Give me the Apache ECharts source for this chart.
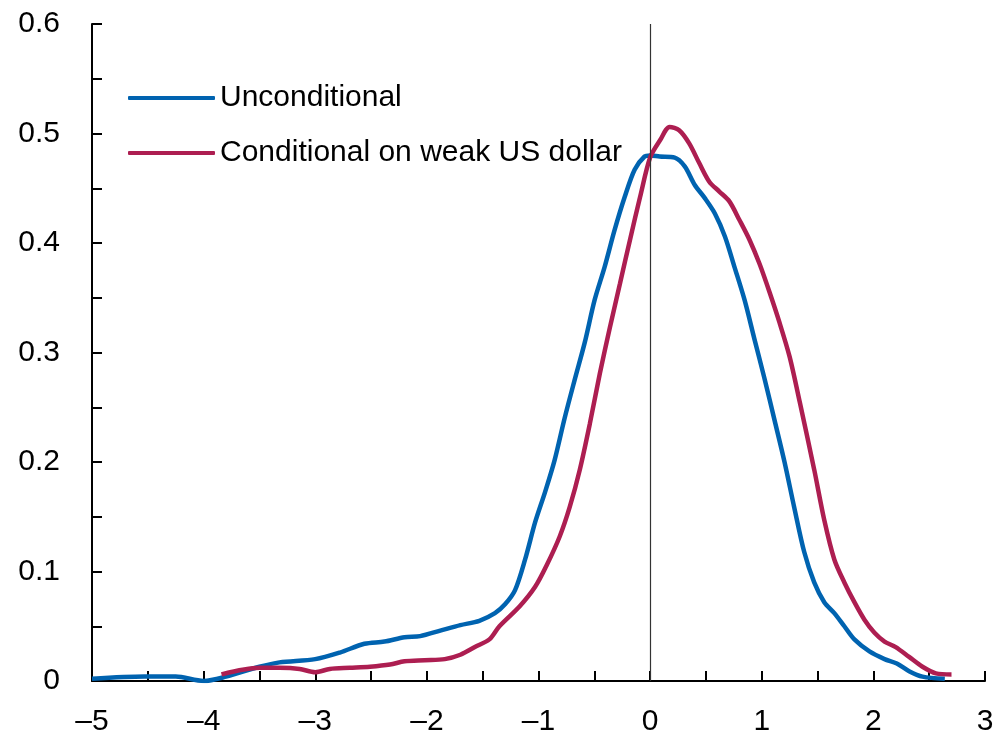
<!DOCTYPE html>
<html>
<head>
<meta charset="utf-8">
<script src="https://cdn.jsdelivr.net/npm/echarts@6/dist/echarts.min.js"></script>
<style>
  html, body { margin: 0; padding: 0; background: #fff; }
  #chart { width: 999px; height: 743px; }
</style>
</head>
<body>
<div id="chart"></div>
<script>
// series names
const seriesNames = ['Unconditional', 'Conditional on weak US dollar'];

// density estimates: x (z-score) and density
const uncondX = [-5, -4.53, -4.25, -4.0, -3.8, -3.5, -3.32, -3.0, -2.78, -2.56, -2.38, -2.2, -2.06, -1.88, -1.7, -1.53, -1.39, -1.3, -1.21, -1.12, -1.03, -0.94, -0.855, -0.766, -0.676, -0.586, -0.497, -0.408, -0.318, -0.228, -0.139, -0.05, 0, 0.085, 0.22, 0.31, 0.40, 0.49, 0.58, 0.67, 0.756, 0.846, 0.935, 1.025, 1.115, 1.204, 1.29, 1.38, 1.47, 1.56, 1.65, 1.74, 1.83, 1.965, 2.10, 2.21, 2.32, 2.44, 2.64];
const uncondY = [0.002, 0.004, 0.004, 0.0, 0.004, 0.013, 0.017, 0.02, 0.026, 0.034, 0.036, 0.040, 0.041, 0.046, 0.051, 0.055, 0.062, 0.070, 0.083, 0.111, 0.145, 0.173, 0.202, 0.240, 0.275, 0.309, 0.348, 0.378, 0.412, 0.442, 0.467, 0.479, 0.480, 0.479, 0.478, 0.470, 0.453, 0.441, 0.427, 0.406, 0.378, 0.348, 0.312, 0.276, 0.238, 0.200, 0.159, 0.118, 0.090, 0.072, 0.062, 0.050, 0.038, 0.027, 0.020, 0.016, 0.009, 0.004, 0.002];

const condX = [-3.84, -3.5, -3.32, -3.14, -3.0, -2.87, -2.69, -2.51, -2.33, -2.2, -2.02, -1.84, -1.7, -1.57, -1.44, -1.35, -1.17, -1.03, -0.93, -0.81, -0.72, -0.63, -0.54, -0.45, -0.36, -0.27, -0.18, -0.09, 0, 0.09, 0.175, 0.26, 0.35, 0.44, 0.53, 0.62, 0.71, 0.80, 0.89, 0.98, 1.07, 1.16, 1.25, 1.34, 1.47, 1.56, 1.65, 1.74, 1.83, 1.92, 2.01, 2.10, 2.2, 2.32, 2.44, 2.56, 2.70];
const condY = [0.006, 0.012, 0.012, 0.011, 0.008, 0.011, 0.012, 0.013, 0.015, 0.018, 0.019, 0.020, 0.024, 0.031, 0.038, 0.050, 0.068, 0.086, 0.105, 0.132, 0.159, 0.193, 0.235, 0.281, 0.323, 0.363, 0.403, 0.442, 0.478, 0.494, 0.506, 0.503, 0.491, 0.473, 0.456, 0.447, 0.438, 0.421, 0.403, 0.381, 0.355, 0.327, 0.296, 0.255, 0.193, 0.147, 0.111, 0.090, 0.072, 0.056, 0.044, 0.036, 0.031, 0.022, 0.013, 0.007, 0.006];

const colors = ['#0063B0', '#AD1E51'];
const font = '"Liberation Sans", Arial, sans-serif';

const pair = (xs, ys) => xs.map((x, i) => [x, ys[i]]);

const chart = echarts.init(document.getElementById('chart'), null, { renderer: 'canvas' });

const option = {
  animation: false,
  backgroundColor: '#fff',
  grid: {
    left: 92,
    right: 14,
    top: 24,
    bottom: 62
  },
  legend: {
    orient: 'vertical',
    left: 123,
    top: 73,
    icon: 'roundRect',
    itemWidth: 87,
    itemHeight: 4,
    itemGap: 15,
    textStyle: {
      fontFamily: font,
      fontSize: 30,
      lineHeight: 40,
      color: '#000'
    },
    data: seriesNames
  },
  xAxis: {
    type: 'value',
    min: -5,
    max: 3,
    interval: 1,
    splitLine: { show: false },
    axisLine: { onZero: false, lineStyle: { color: '#000', width: 2 } },
    axisTick: { inside: true, length: 10, lineStyle: { color: '#000', width: 2 } },
    minorTick: { show: true, splitNumber: 2, length: 10, lineStyle: { color: '#000', width: 2 } },
    axisLabel: {
      margin: 26,
      fontFamily: font,
      fontSize: 30,
      color: '#000',
      formatter: v => (v < 0 ? '\u2013' + Math.abs(v) : String(v))
    }
  },
  yAxis: {
    type: 'value',
    min: 0,
    max: 0.6,
    interval: 0.1,
    splitLine: { show: false },
    axisLine: { show: true, onZero: false, lineStyle: { color: '#000', width: 2 } },
    axisTick: { show: true, inside: true, length: 10, lineStyle: { color: '#000', width: 2 } },
    minorTick: { show: true, splitNumber: 2, length: 10, lineStyle: { color: '#000', width: 2 } },
    axisLabel: {
      margin: 32,
      fontFamily: font,
      fontSize: 30,
      color: '#000',
      formatter: v => (v === 0 ? '0' : v.toFixed(1))
    }
  },
  series: [
    {
      name: seriesNames[0],
      type: 'line',
      smooth: 0.3,
      showSymbol: false,
      color: colors[0],
      lineStyle: { width: 4.5, color: colors[0] },
      data: pair(uncondX, uncondY),
      markLine: {
        silent: true,
        symbol: 'none',
        label: { show: false },
        lineStyle: { color: '#333', width: 1.2, type: 'solid' },
        data: [{ xAxis: 0 }]
      }
    },
    {
      name: seriesNames[1],
      type: 'line',
      smooth: 0.3,
      showSymbol: false,
      color: colors[1],
      lineStyle: { width: 4.5, color: colors[1] },
      data: pair(condX, condY)
    }
  ]
};

chart.setOption(option);
</script>
</body>
</html>
